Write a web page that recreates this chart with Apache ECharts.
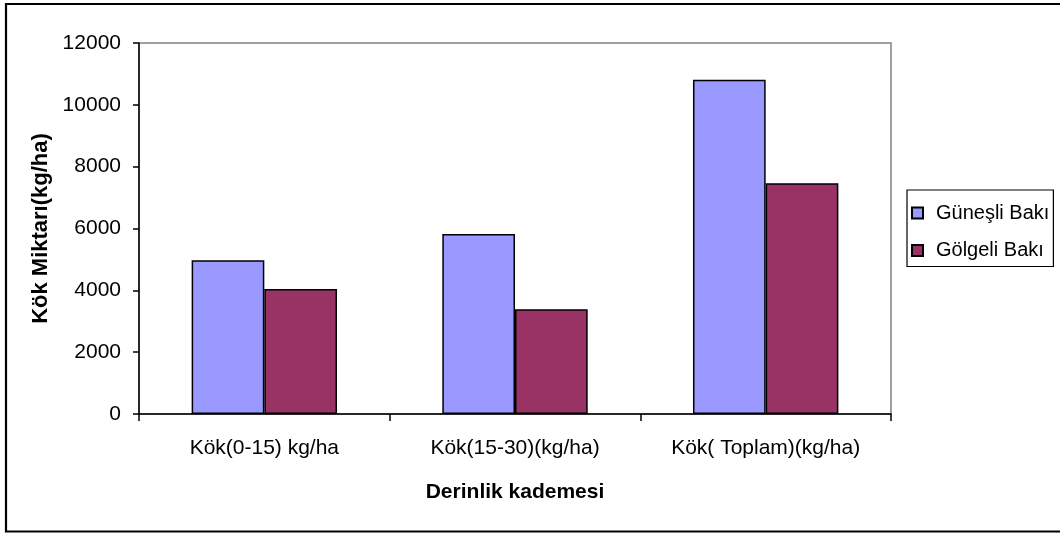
<!DOCTYPE html>
<html>
<head>
<meta charset="utf-8">
<script src="https://cdn.jsdelivr.net/npm/echarts@6/dist/echarts.min.js"></script>
<style>
  html, body { margin: 0; padding: 0; background: #fff; }
  #chart { width: 1060px; height: 534px; }
</style>
</head>
<body>
<div id="chart"></div>
<script>
// Root amount per depth layer, sunny vs. shaded aspect
const categories = ['Kök(0-15) kg/ha', 'Kök(15-30)(kg/ha)', 'Kök( Toplam)(kg/ha)'];
const guneslBaki = [4970, 5820, 10810];
const golgeliBaki = [4040, 3390, 7460];
const seriesNames = ['Güneşli Bakı', 'Gölgeli Bakı'];
const yTicks = { min: 0, max: 12000, interval: 2000 };

const FONT = '"Liberation Sans", Arial, sans-serif';

const chart = echarts.init(document.getElementById('chart'));
chart.setOption({
  animation: false,
  backgroundColor: '#fff',
  textStyle: { fontFamily: FONT },
  grid: {
    left: 139, right: 169, top: 43, bottom: 120,
    show: true, borderColor: '#808080', borderWidth: 1.5, backgroundColor: '#fff'
  },
  legend: {
    orient: 'vertical',
    left: 907, top: 190,
    padding: [12, 4, 5, 4],
    itemGap: 15.5,
    itemWidth: 11, itemHeight: 11,
    borderColor: '#000', borderWidth: 1.2,
    icon: 'rect',
    textStyle: { fontFamily: FONT, fontSize: 20, color: '#000', lineHeight: 22, padding: [0, 0, 0, 8] },
    data: seriesNames
  },
  xAxis: {
    type: 'category',
    data: categories,
    name: 'Derinlik kademesi',
    nameLocation: 'middle',
    nameGap: 68,
    nameTextStyle: { fontFamily: FONT, fontSize: 21, fontWeight: 'bold', color: '#000' },
    axisLine: { lineStyle: { color: '#000', width: 1.5 } },
    axisTick: { show: true, length: 7, lineStyle: { color: '#000', width: 1.5 } },
    axisLabel: { fontFamily: FONT, fontSize: 21, color: '#000', margin: 24 },
    splitLine: { show: false }
  },
  yAxis: {
    type: 'value',
    min: yTicks.min, max: yTicks.max, interval: yTicks.interval,
    name: 'Kök Miktarı(kg/ha)',
    nameLocation: 'middle',
    nameGap: 81,
    nameTextStyle: { fontFamily: FONT, fontSize: 22, fontWeight: 'bold', color: '#000' },
    axisLine: { show: true, lineStyle: { color: '#000', width: 1.5 } },
    axisTick: { show: true, length: 6, lineStyle: { color: '#000', width: 1.5 } },
    axisLabel: { fontFamily: FONT, fontSize: 21, color: '#000', margin: 18, formatter: v => String(v) },
    splitLine: { show: false }
  },
  series: [
    {
      name: seriesNames[0], type: 'bar', data: guneslBaki,
      barGap: '0%', barCategoryGap: '42%',
      itemStyle: { color: '#9999FF', borderColor: '#000', borderWidth: 1.5 }
    },
    {
      name: seriesNames[1], type: 'bar', data: golgeliBaki,
      barGap: '0%', barCategoryGap: '42%',
      itemStyle: { color: '#993366', borderColor: '#000', borderWidth: 1.5 }
    }
  ],
  graphic: [
    {
      type: 'rect', silent: true, z: 100,
      shape: { x: 6, y: 4, width: 1070, height: 527.5 },
      style: { fill: null, stroke: '#000', lineWidth: 2.2 }
    }
  ]
});
</script>
</body>
</html>
